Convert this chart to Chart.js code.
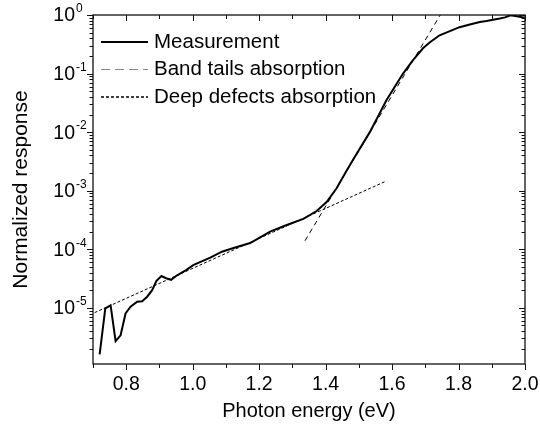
<!DOCTYPE html>
<html>
<head>
<meta charset="utf-8">
<script src="https://cdn.jsdelivr.net/npm/chart.js@4.4.1/dist/chart.umd.min.js"></script>
<style>
html, body { margin: 0; padding: 0; background: #fff; }
</style>
</head>
<body>
<canvas id="myChart" width="540" height="428"></canvas>
<script>
// measured spectrum
const measEnergy = [0.720, 0.737, 0.753, 0.768, 0.783, 0.798, 0.813, 0.833, 0.848, 0.863, 0.878, 0.891, 0.906, 0.920, 0.935, 0.953, 0.980, 1.003, 1.053, 1.088, 1.123, 1.173, 1.203, 1.233, 1.283, 1.333, 1.373, 1.403, 1.433, 1.463, 1.483, 1.533, 1.583, 1.633, 1.663, 1.693, 1.713, 1.743, 1.774, 1.803, 1.834, 1.864, 1.884, 1.924, 1.940, 1.956, 1.976, 1.999];
const measResponse = [1.6e-6, 9.8e-6, 1.1e-5, 2.7e-6, 3.4e-6, 8e-6, 1.05e-5, 1.27e-5, 1.3e-5, 1.55e-5, 2.0e-5, 2.9e-5, 3.5e-5, 3.2e-5, 3.0e-5, 3.6e-5, 4.4e-5, 5.4e-5, 7.2e-5, 9.1e-5, 1.05e-4, 1.28e-4, 1.6e-4, 2.0e-4, 2.6e-4, 3.3e-4, 4.5e-4, 6.4e-4, 1.1e-3, 2.2e-3, 3.4e-3, 1.0e-2, 3.5e-2, 0.1, 0.17, 0.27, 0.34, 0.45, 0.53, 0.62, 0.69, 0.76, 0.79, 0.87, 0.91, 0.99, 0.95, 0.90];

// fitted lines
const bandEnergy = [1.338, 1.745];
const bandResponse = [1.4e-4, 1.0];
const defectEnergy = [0.705, 1.581];
const defectResponse = [8.3e-6, 1.45e-3];

const xTicks = [0.8, 1.0, 1.2, 1.4, 1.6, 1.8, 2.0];
const xMinor = [0.7, 0.9, 1.1, 1.3, 1.5, 1.7, 1.9];
const yExponents = [0, -1, -2, -3, -4, -5];

function pts(xs, ys) {
    return xs.map((v, i) => ({ x: v, y: ys[i] }));
}

const FONT = 'Arial, "Liberation Sans", sans-serif';

const frame = {
    id: 'frame',
    afterDraw(chart) {
        const ctx = chart.ctx;
        const a = chart.chartArea;
        const x = chart.scales.x, y = chart.scales.y;
        ctx.save();
        ctx.strokeStyle = '#111';
        ctx.lineWidth = 1.3;
        ctx.strokeRect(a.left, a.top, a.right - a.left, a.bottom - a.top);

        ctx.lineWidth = 1;
        ctx.beginPath();
        // x ticks: bottom outward, top inward
        xTicks.forEach(v => {
            const px = Math.round(x.getPixelForValue(v)) + 0.5;
            ctx.moveTo(px, a.bottom); ctx.lineTo(px, a.bottom + 6);
            ctx.moveTo(px, a.top); ctx.lineTo(px, a.top + 6);
        });
        xMinor.forEach(v => {
            const px = Math.round(x.getPixelForValue(v)) + 0.5;
            ctx.moveTo(px, a.bottom); ctx.lineTo(px, a.bottom + 4);
            ctx.moveTo(px, a.top); ctx.lineTo(px, a.top + 4);
        });
        // y ticks: left outward, right inward
        for (let e = -6; e <= 0; e++) {
            for (let m = 1; m <= 9; m++) {
                const v = m * Math.pow(10, e);
                if (v < y.min || v > y.max) continue;
                const py = Math.round(y.getPixelForValue(v)) + 0.5;
                const len = m === 1 ? 6 : 3.5;
                ctx.moveTo(a.left, py); ctx.lineTo(a.left - len, py);
                ctx.moveTo(a.right, py); ctx.lineTo(a.right - len, py);
            }
        }
        ctx.stroke();

        // tick labels
        ctx.fillStyle = '#000';
        ctx.font = '19.5px ' + FONT;
        ctx.textAlign = 'center';
        ctx.textBaseline = 'middle';
        xTicks.forEach(v => {
            ctx.fillText(v.toFixed(1), x.getPixelForValue(v), a.bottom + 21);
        });
        yExponents.forEach(e => {
            const py = y.getPixelForValue(Math.pow(10, e));
            ctx.font = '19.5px ' + FONT;
            ctx.textAlign = 'right';
            ctx.fillText('10', 75, py + 1);
            ctx.font = '12px ' + FONT;
            ctx.textAlign = 'left';
            ctx.fillText(String(e), 76, py - 6);
        });

        // axis titles
        ctx.font = '20px ' + FONT;
        ctx.textAlign = 'center';
        ctx.fillText('Photon energy (eV)', (a.left + a.right) / 2, 411);
        ctx.save();
        ctx.translate(21, (a.top + a.bottom) / 2);
        ctx.rotate(-Math.PI / 2);
        ctx.font = '21px ' + FONT;
        ctx.fillText('Normalized response', 0, 0);
        ctx.restore();

        // legend
        chart.data.datasets.forEach((ds, i) => {
            const ly = 42 + i * 27.5;
            ctx.beginPath();
            ctx.strokeStyle = ds.legendColor || ds.borderColor;
            ctx.lineWidth = ds.legendWidth || ds.borderWidth;
            ctx.setLineDash(ds.legendDash || ds.borderDash || []);
            ctx.moveTo(101, ly); ctx.lineTo(148, ly);
            ctx.stroke();
            ctx.setLineDash([]);
            ctx.font = '20.5px ' + FONT;
            ctx.textAlign = 'left';
            ctx.fillStyle = '#000';
            ctx.fillText(ds.label, 154, ly);
        });
        ctx.restore();
    }
};

new Chart(document.getElementById('myChart'), {
    type: 'line',
    data: {
        datasets: [{
            label: 'Measurement',
            data: pts(measEnergy, measResponse),
            borderColor: '#000',
            borderWidth: 2,
            pointRadius: 0,
            tension: 0
        }, {
            label: 'Band tails absorption',
            data: pts(bandEnergy, bandResponse),
            borderColor: '#000',
            borderWidth: 1,
            borderDash: [5, 4],
            legendColor: '#888',
            legendDash: [9, 5],
            pointRadius: 0
        }, {
            label: 'Deep defects absorption',
            data: pts(defectEnergy, defectResponse),
            borderColor: '#000',
            borderWidth: 1,
            borderDash: [3, 2],
            legendWidth: 1.5,
            pointRadius: 0
        }]
    },
    options: {
        responsive: false,
        animation: false,
        layout: { padding: { top: 15, right: 15, left: 0, bottom: 0 } },
        plugins: { legend: { display: false }, tooltip: { enabled: false } },
        scales: {
            x: {
                type: 'linear', min: 0.7, max: 2.0,
                ticks: { display: false },
                grid: { display: false },
                border: { display: false },
                afterFit(scale) { scale.height = 64; }
            },
            y: {
                type: 'logarithmic', min: 1.1e-6, max: 1,
                ticks: { display: false },
                grid: { display: false },
                border: { display: false },
                afterFit(scale) { scale.width = 93; }
            }
        }
    },
    plugins: [frame]
});
</script>
</body>
</html>
